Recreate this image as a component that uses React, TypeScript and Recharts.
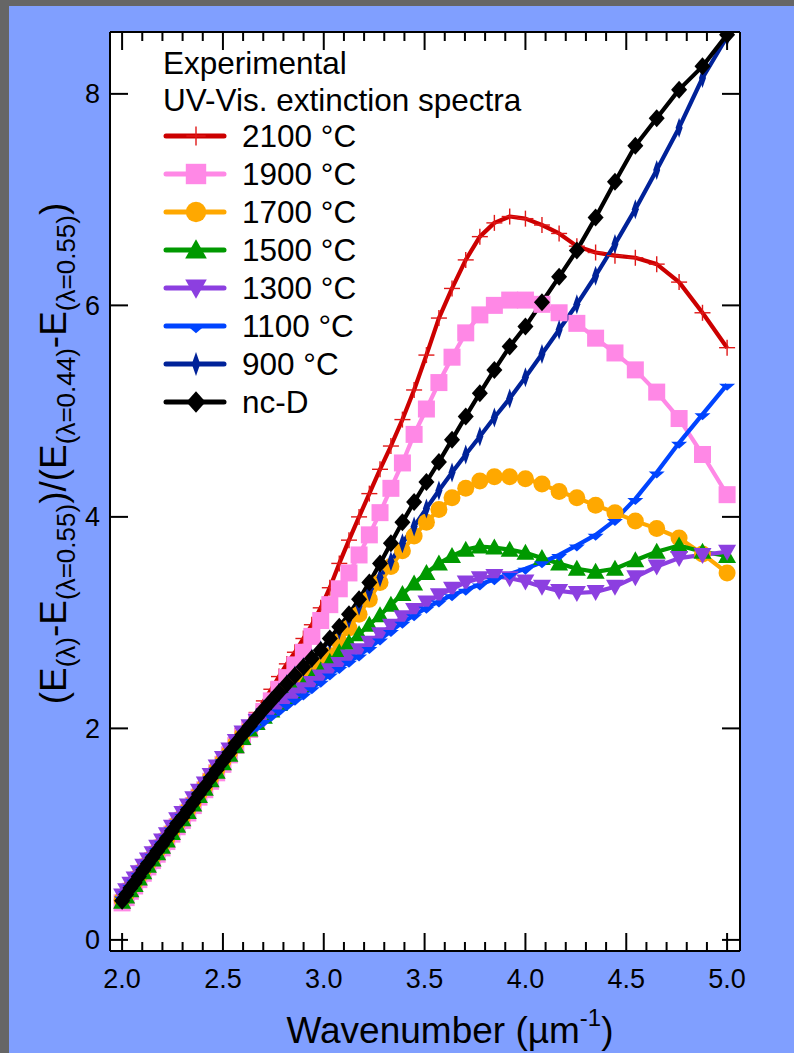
import React from 'react';
import { LineChart, Line, XAxis, YAxis, CartesianGrid, Legend } from 'recharts';

const FONT = '"Liberation Sans", Arial, Helvetica, sans-serif';

// wavenumber grid (µm^-1), one point every 5 nm from 500 nm down to 200 nm
const wavenumber = [
  2.0, 2.02, 2.041, 2.062, 2.083, 2.105, 2.128, 2.151, 2.174, 2.198,
  2.222, 2.247, 2.273, 2.299, 2.326, 2.353, 2.381, 2.41, 2.439, 2.469,
  2.5, 2.532, 2.564, 2.597, 2.632, 2.667, 2.703, 2.74, 2.778, 2.817,
  2.857, 2.899, 2.941, 2.985, 3.03, 3.077, 3.125, 3.175, 3.226, 3.279,
  3.333, 3.39, 3.448, 3.509, 3.571, 3.636, 3.704, 3.774, 3.846, 3.922,
  4.0, 4.082, 4.167, 4.255, 4.348, 4.444, 4.545, 4.651, 4.762, 4.878, 5.0,
];

const t2100 = [
  0.38, 0.43, 0.49, 0.54, 0.6, 0.66, 0.72, 0.78, 0.84, 0.9,
  0.96, 1.03, 1.1, 1.17, 1.24, 1.31, 1.39, 1.47, 1.55, 1.63,
  1.72, 1.81, 1.9, 2.0, 2.07, 2.15, 2.26, 2.37, 2.49, 2.61,
  2.72, 2.85, 2.98, 3.14, 3.33, 3.56, 3.78, 4.0, 4.22, 4.45,
  4.67, 4.92, 5.2, 5.53, 5.88, 6.16, 6.43, 6.65, 6.78, 6.84,
  6.82, 6.76, 6.68, 6.56, 6.5, 6.47, 6.45, 6.39, 6.22, 5.93, 5.6,
];
const t1900 = [
  0.35, 0.4, 0.46, 0.51, 0.57, 0.63, 0.69, 0.75, 0.81, 0.87,
  0.93, 1.0, 1.07, 1.13, 1.2, 1.27, 1.35, 1.42, 1.5, 1.58,
  1.66, 1.75, 1.84, 1.92, 1.99, 2.07, 2.16, 2.26, 2.37, 2.48,
  2.6, 2.72, 2.87, 3.02, 3.17, 3.32, 3.47, 3.64, 3.83, 4.04,
  4.27, 4.51, 4.78, 5.02, 5.27, 5.51, 5.74, 5.91, 6.0, 6.05,
  6.05, 6.01, 5.93, 5.83, 5.69, 5.55, 5.39, 5.18, 4.93, 4.59, 4.21,
];
const t1700 = [
  0.38, 0.43, 0.49, 0.54, 0.6, 0.66, 0.72, 0.78, 0.84, 0.9,
  0.96, 1.03, 1.1, 1.16, 1.23, 1.3, 1.38, 1.45, 1.53, 1.61,
  1.69, 1.77, 1.86, 1.94, 2.0, 2.07, 2.14, 2.21, 2.28, 2.35,
  2.42, 2.48, 2.53, 2.59, 2.69, 2.82, 2.95, 3.08, 3.22, 3.38,
  3.53, 3.68, 3.82, 3.95, 4.07, 4.18, 4.27, 4.34, 4.38, 4.38,
  4.36, 4.31, 4.24, 4.18, 4.11, 4.04, 3.96, 3.89, 3.8, 3.65, 3.47,
];
const t1500 = [
  0.36, 0.41, 0.47, 0.52, 0.58, 0.64, 0.7, 0.76, 0.82, 0.88,
  0.94, 1.01, 1.08, 1.14, 1.21, 1.28, 1.36, 1.43, 1.51, 1.59,
  1.67, 1.75, 1.83, 1.91, 1.99, 2.05, 2.11, 2.17, 2.23, 2.29,
  2.35, 2.41, 2.48, 2.55, 2.63, 2.72, 2.81, 2.89, 2.98, 3.07,
  3.17, 3.27, 3.37, 3.47, 3.56, 3.63, 3.69, 3.72, 3.71, 3.69,
  3.66, 3.61, 3.56, 3.51, 3.48, 3.51, 3.59, 3.67, 3.73, 3.67, 3.63,
];
const t1300 = [
  0.42, 0.47, 0.53, 0.58, 0.64, 0.7, 0.76, 0.82, 0.88, 0.94,
  1.0, 1.07, 1.14, 1.2, 1.27, 1.34, 1.41, 1.48, 1.56, 1.64,
  1.72, 1.8, 1.88, 1.96, 2.02, 2.07, 2.12, 2.17, 2.22, 2.27,
  2.32, 2.37, 2.43, 2.49, 2.55, 2.61, 2.68, 2.74, 2.81, 2.89,
  2.97, 3.05, 3.12, 3.19, 3.26, 3.32, 3.38, 3.42, 3.44, 3.42,
  3.39, 3.34, 3.3, 3.28, 3.29, 3.34, 3.43, 3.53, 3.61, 3.64, 3.67,
];
const t1100 = [
  0.4, 0.45, 0.51, 0.56, 0.62, 0.68, 0.74, 0.8, 0.86, 0.92,
  0.98, 1.05, 1.12, 1.18, 1.25, 1.32, 1.39, 1.46, 1.54, 1.62,
  1.7, 1.78, 1.86, 1.93, 1.98, 2.02, 2.07, 2.12, 2.17, 2.22,
  2.27, 2.32, 2.38, 2.44, 2.51, 2.57, 2.63, 2.69, 2.76, 2.84,
  2.92, 3.0, 3.07, 3.14, 3.2, 3.26, 3.31, 3.36, 3.41, 3.46,
  3.51, 3.57, 3.64, 3.73, 3.83, 3.97, 4.17, 4.42, 4.7, 4.97, 5.25,
];
const t900 = [
  0.38, 0.43, 0.49, 0.54, 0.6, 0.66, 0.72, 0.78, 0.84, 0.9,
  0.96, 1.03, 1.1, 1.16, 1.23, 1.3, 1.38, 1.45, 1.53, 1.61,
  1.69, 1.77, 1.86, 1.94, 2.02, 2.1, 2.18, 2.26, 2.34, 2.42,
  2.5, 2.58, 2.66, 2.74, 2.83, 2.93, 3.04, 3.16, 3.29, 3.43,
  3.58, 3.75, 3.91, 4.08, 4.25, 4.42, 4.59, 4.76, 4.94, 5.12,
  5.32, 5.54, 5.77, 6.01, 6.28, 6.58, 6.91, 7.28, 7.68, 8.15, 8.54,
];
const ncD = [
  0.37, 0.43, 0.49, 0.54, 0.6, 0.66, 0.72, 0.78, 0.84, 0.9,
  0.96, 1.03, 1.1, 1.16, 1.23, 1.3, 1.38, 1.45, 1.53, 1.61,
  1.69, 1.77, 1.86, 1.94, 2.02, 2.1, 2.18, 2.26, 2.34, 2.42,
  2.5, 2.58, 2.66, 2.74, 2.85, 2.96, 3.08, 3.22, 3.38, 3.56,
  3.75, 3.95, 4.14, 4.33, 4.52, 4.73, 4.95, 5.17, 5.39, 5.61,
  5.8, 6.03, 6.27, 6.52, 6.83, 7.17, 7.51, 7.77, 8.04, 8.26, 8.56,
];

const xTicks = [
  2, 2.1, 2.2, 2.3, 2.4, 2.5, 2.6, 2.7, 2.8, 2.9,
  3, 3.1, 3.2, 3.3, 3.4, 3.5, 3.6, 3.7, 3.8, 3.9,
  4, 4.1, 4.2, 4.3, 4.4, 4.5, 4.6, 4.7, 4.8, 4.9, 5,
];
const yTicks = [0, 2, 4, 6, 8];

const series = [
  { key: 't2100', name: '2100 °C', color: '#CC0000', mark: 'cross', values: t2100 },
  { key: 't1900', name: '1900 °C', color: '#FF88E6', mark: 'square', values: t1900 },
  { key: 't1700', name: '1700 °C', color: '#FFA800', mark: 'circle', values: t1700 },
  { key: 't1500', name: '1500 °C', color: '#009900', mark: 'triUp', values: t1500 },
  { key: 't1300', name: '1300 °C', color: '#8C3FE0', mark: 'triDown', values: t1300 },
  { key: 't1100', name: '1100 °C', color: '#0044FF', mark: 'chevron', values: t1100 },
  { key: 't900', name: '900 °C', color: '#002299', mark: 'spindle', values: t900 },
  { key: 'ncD', name: 'nc-D', color: '#000000', mark: 'diamond', values: ncD },
];

const data = wavenumber.map((w, i) => {
  const row: any = { w };
  series.forEach((s) => { row[s.key] = s.values[i]; });
  return row;
});

function Marker({ kind, cx, cy, color, s = 1 }: any) {
  if (cx == null || cy == null) return null;
  switch (kind) {
    case 'cross':
      return (
        <g stroke="#E01818" strokeWidth={1.4}>
          <line x1={cx - 8 * s} x2={cx + 8 * s} y1={cy} y2={cy} />
          <line x1={cx} x2={cx} y1={cy - 8 * s} y2={cy + 8 * s} />
        </g>
      );
    case 'square':
      return <rect x={cx - 8.5 * s} y={cy - 8.5 * s} width={17 * s} height={17 * s} fill={color} />;
    case 'circle':
      return <circle cx={cx} cy={cy} r={8.5 * s} fill={color} />;
    case 'triUp':
      return <polygon points={`${cx},${cy - 9 * s} ${cx + 9 * s},${cy + 7 * s} ${cx - 9 * s},${cy + 7 * s}`} fill={color} />;
    case 'triDown':
      return <polygon points={`${cx - 9 * s},${cy - 7 * s} ${cx + 9 * s},${cy - 7 * s} ${cx},${cy + 9 * s}`} fill={color} />;
    case 'chevron':
      return <polygon points={`${cx - 8 * s},${cy - 1} ${cx + 8 * s},${cy - 1} ${cx},${cy + 6 * s}`} fill={color} />;
    case 'spindle':
      return <polygon points={`${cx},${cy - 10 * s} ${cx + 3.5 * s},${cy} ${cx},${cy + 10 * s} ${cx - 3.5 * s},${cy}`} fill={color} />;
    case 'diamond':
      return <polygon points={`${cx},${cy - 9 * s} ${cx + 8 * s},${cy} ${cx},${cy + 9 * s} ${cx - 8 * s},${cy}`} fill={color} />;
    default:
      return null;
  }
}

const isMajorX = (v: number) => Math.abs(v * 2 - Math.round(v * 2)) < 1e-6;

function BottomTick({ x, y, payload }: any) {
  const major = isMajorX(payload.value);
  return (
    <g>
      <line x1={x} x2={x} y1={y} y2={y - (major ? 18 : 9)} stroke="#000" strokeWidth={2} />
      {major && (
        <text x={x} y={y + 37} textAnchor="middle" fontSize={27} fontFamily={FONT} fill="#000">
          {payload.value.toFixed(1)}
        </text>
      )}
    </g>
  );
}

function TopTick({ x, y, payload }: any) {
  const major = isMajorX(payload.value);
  return <line x1={x} x2={x} y1={y} y2={y + (major ? 18 : 9)} stroke="#000" strokeWidth={2} />;
}

function LeftTick({ x, y, payload }: any) {
  return (
    <g>
      <line x1={x} x2={x + 18} y1={y} y2={y} stroke="#000" strokeWidth={2} />
      <text x={x - 10} y={y + 9.5} textAnchor="end" fontSize={27} fontFamily={FONT} fill="#000">
        {payload.value}
      </text>
    </g>
  );
}

function RightTick({ x, y }: any) {
  return <line x1={x} x2={x - 18} y1={y} y2={y} stroke="#000" strokeWidth={2} />;
}

function renderXTitle(props: any) {
  const { x, y, width } = props.viewBox;
  return (
    <text x={x + width / 2 + 25} y={y + 92} textAnchor="middle" fontSize={37} fontFamily={FONT} fill="#000">
      <tspan>Wavenumber (µm</tspan>
      <tspan fontSize={24} dy={-17}>-1</tspan>
      <tspan dy={17}>)</tspan>
    </text>
  );
}

function renderYTitle(props: any) {
  const { x, y, height } = props.viewBox;
  const cx = x + 16;
  const cy = y + height / 2 - 38;
  const sub = (t: string) => (
    <tspan fontSize={26} dy={9}>{t}</tspan>
  );
  return (
    <text x={cx} y={cy} transform={`rotate(-90 ${cx} ${cy})`} textAnchor="middle" fontSize={37} fontFamily={FONT} fill="#000">
      <tspan>(E</tspan>
      {sub('(λ)')}
      <tspan dy={-9}>-E</tspan>
      {sub('(λ=0.55)')}
      <tspan dy={-9}>)/(E</tspan>
      {sub('(λ=0.44)')}
      <tspan dy={-9}>-E</tspan>
      {sub('(λ=0.55)')}
      <tspan dy={-9}>)</tspan>
    </text>
  );
}

function LegendBox() {
  const row = { height: 38, lineHeight: '38px', whiteSpace: 'nowrap' as const };
  return (
    <div style={{ fontFamily: FONT, fontSize: 31.5, color: '#000' }}>
      <div style={{ ...row, height: 37 }}>Experimental</div>
      <div style={{ ...row, height: 36 }}>UV-Vis. extinction spectra</div>
      {series.map((s) => (
        <div key={s.key} style={{ ...row, display: 'flex', alignItems: 'center' }}>
          <svg width={64} height={38} style={{ marginRight: 15 }}>
            <line x1={3} x2={61} y1={19} y2={19} stroke={s.color} strokeWidth={5} strokeLinecap="round" />
            <Marker kind={s.mark} cx={33} cy={19} color={s.color} s={1.2} />
          </svg>
          <span>{s.name}</span>
        </div>
      ))}
    </div>
  );
}

export default function App() {
  return (
    <div style={{ position: 'fixed', left: 0, top: 0, width: 794, height: 1053, background: '#666666' }}>
      <div style={{ position: 'absolute', left: 9, top: 6, right: 0, bottom: 0, background: '#809FFF' }} />
      <div style={{ position: 'absolute', left: 0, top: 0 }}>
        <LineChart width={794} height={1053} data={data} margin={{ top: 30, right: 44, bottom: 42, left: 50 }}>
          <CartesianGrid horizontal={false} vertical={false} fill="#ffffff" stroke="none" />
          <XAxis
            dataKey="w"
            type="number"
            domain={[1.94, 5.064]}
            ticks={xTicks}
            interval={0}
            allowDataOverflow
            height={60}
            tickSize={0}
            tickMargin={0}
            tickLine={false}
            axisLine={{ stroke: '#000', strokeWidth: 2 }}
            tick={BottomTick}
            label={renderXTitle}
          />
          <XAxis
            xAxisId="top"
            orientation="top"
            dataKey="w"
            type="number"
            domain={[1.94, 5.064]}
            ticks={xTicks}
            interval={0}
            allowDataOverflow
            height={2}
            tickSize={0}
            tickMargin={0}
            tickLine={false}
            axisLine={{ stroke: '#000', strokeWidth: 2 }}
            tick={TopTick}
          />
          <YAxis
            type="number"
            domain={[-0.105, 8.585]}
            ticks={yTicks}
            interval={0}
            allowDataOverflow
            width={60}
            tickSize={0}
            tickMargin={0}
            tickLine={false}
            axisLine={{ stroke: '#000', strokeWidth: 2 }}
            tick={LeftTick}
            label={renderYTitle}
          />
          <YAxis
            yAxisId="right"
            orientation="right"
            type="number"
            domain={[-0.105, 8.585]}
            ticks={yTicks}
            interval={0}
            allowDataOverflow
            width={10}
            tickSize={0}
            tickMargin={0}
            tickLine={false}
            axisLine={{ stroke: '#000', strokeWidth: 2 }}
            tick={RightTick}
          />
          <Legend
            layout="vertical"
            align="center"
            verticalAlign="middle"
            wrapperStyle={{ left: 163, top: 44, width: 'auto' }}
            content={() => <LegendBox />}
          />
          {series.map((s) => (
            <Line
              key={s.key}
              dataKey={s.key}
              name={s.name}
              type="linear"
              stroke={s.color}
              strokeWidth={4.2}
              strokeLinejoin="round"
              activeDot={false}
              isAnimationActive={false}
              dot={(p: any) => <Marker key={`${s.key}-${p.index}`} kind={s.mark} cx={p.cx} cy={p.cy} color={s.color} />}
            />
          ))}
        </LineChart>
      </div>
    </div>
  );
}
